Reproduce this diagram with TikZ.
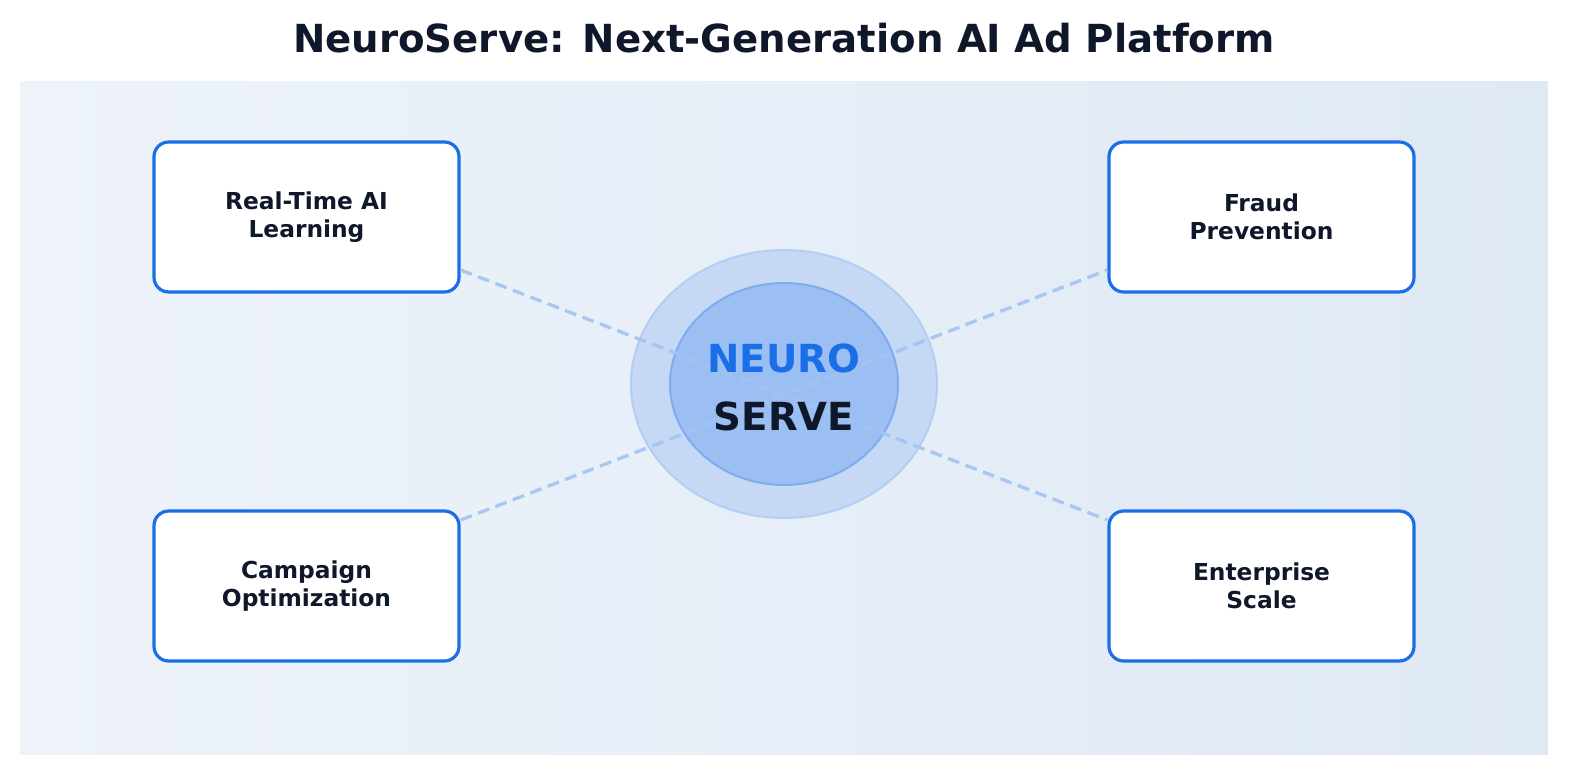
\documentclass[tikz,border=0pt]{standalone}
\usepackage{fontspec}
\setmainfont{DejaVu Sans}
\usetikzlibrary{calc}
\definecolor{bgL}{HTML}{EEF3FA}
\definecolor{bgR}{HTML}{DFE9F4}
\definecolor{blue1}{HTML}{1A6FE8}
\definecolor{ink}{HTML}{0F172A}
\definecolor{outerF}{HTML}{C6D9F4}
\definecolor{outerD}{HTML}{B3CDF3}
\definecolor{innerF}{HTML}{9BBFF3}
\definecolor{innerD}{HTML}{80ABEE}
\definecolor{dashc}{HTML}{A3C3F3}
\begin{document}
\begin{tikzpicture}[x=0.75pt,y=-0.75pt,
  feat/.style={draw=blue1,line width=2.4pt,fill=white,rounded corners=11pt,minimum width=228.75pt,minimum height=112.5pt,align=center,font=\fontsize{17.5}{21}\selectfont\bfseries,text=ink},
  link/.style={draw=dashc,line width=2.5pt,dash pattern=on 9pt off 5pt}]
\useasboundingbox (0,0) rectangle (1580,780);
\fill[white] (0,0) rectangle (1580,780);
\shade[left color=bgL,right color=bgR] (20,82) rectangle (1548,754);
\node[font=\fontsize{29}{34}\selectfont\bfseries,text=ink] (title) at (784,38) {NeuroServe: Next-Generation AI Ad Platform};
\node[feat] (rt) at (306.5,217) {Real-Time AI\\Learning};
\node[feat] (fr) at (1261.5,217) {Fraud\\Prevention};
\node[feat] (co) at (306.5,586) {Campaign\\Optimization};
\node[feat] (es) at (1261.5,586) {Enterprise\\Scale};
\filldraw[fill=outerF,draw=outerD,line width=1.5pt] (784,384) ellipse [x radius=153,y radius=134];
\filldraw[fill=innerF,draw=innerD,line width=1.5pt] (784,384) ellipse [x radius=114,y radius=101];
\coordinate (a) at ($(rt.east)+(0,53)$);
\coordinate (b) at ($(es.west)+(0,-66)$);
\coordinate (c) at ($(co.east)+(0,-66)$);
\coordinate (d) at ($(fr.west)+(0,53)$);
\draw[link,draw opacity=0.9] (a) -- (b);
\draw[link,draw opacity=0.9] (c) -- (d);
\node[font=\fontsize{29}{32}\selectfont\bfseries,text=blue1] (n1) at (784,358) {NEURO};
\node[font=\fontsize{29}{32}\selectfont\bfseries,text=ink] (n2) at (784,416) {SERVE};
\end{tikzpicture}
\end{document}
